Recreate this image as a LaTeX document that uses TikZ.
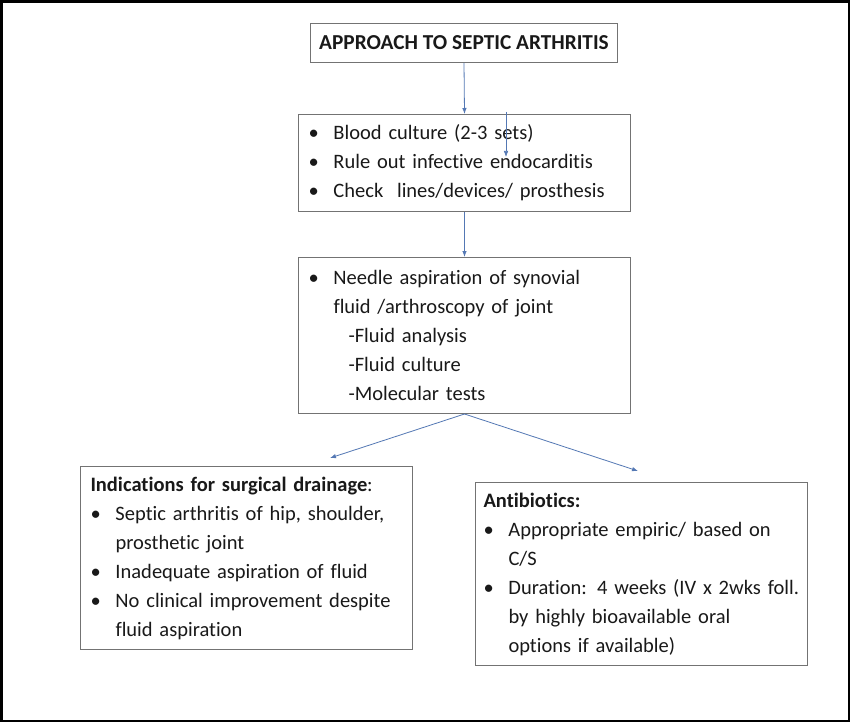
\documentclass[tikz,border=0pt]{standalone}
\usepackage{fontspec}
\setmainfont{Carlito}[Ligatures=NoCommon]
\usetikzlibrary{arrows.meta}
\definecolor{arrowblue}{RGB}{84,120,180}
\definecolor{boxgray}{RGB}{115,115,115}
\definecolor{txt}{RGB}{25,25,25}
\newcommand{\bitem}[1]{\hangindent=25pt\hangafter=1\noindent\makebox[25pt][l]{\textbullet}#1\par}
\newcommand{\subline}[1]{\noindent\hspace*{40pt}#1\par}
\newcommand{\headline}[1]{\noindent#1\par}
\tikzset{
  box/.style={draw=boxgray, line width=1pt, fill=white, text=txt, anchor=north west,
    align=left, inner ysep=4pt, font=\fontsize{20.5}{29}\selectfont},
  arr/.style={draw=arrowblue, line width=0.8pt, -{Latex[length=6pt,width=4.5pt]}}
}
\begin{document}
\begin{tikzpicture}[x=1pt,y=-1pt]
\useasboundingbox (0,0) rectangle (850,722);
\fill[black] (0,0) rectangle (850,722);
\fill[white] (3,3) rectangle (848,720);

\node[box, inner xsep=0pt, minimum width=307pt, minimum height=39pt, align=center,
  font=\fontsize{21.3}{25}\selectfont\bfseries] (title) at (310,23) {APPROACH TO SEPTIC ARTHRITIS};

\node[box, inner xsep=10pt, text width=312pt, minimum height=97pt] (b2) at (298,114) {%
\bitem{Blood culture (2-3 sets)}%
\bitem{Rule out infective endocarditis}%
\bitem{Check\ \ lines/devices/ prosthesis}};

\node[box, inner xsep=10pt, text width=312pt, minimum height=156pt] (b3) at (298,257) {%
\bitem{Needle aspiration of synovial\newline fluid /arthroscopy of joint}%
\subline{-Fluid analysis}%
\subline{-Fluid culture}%
\subline{-Molecular tests}};

\node[box, inner xsep=10pt, text width=312pt, minimum height=183pt] (b4) at (80,466) {%
\headline{\textbf{Indications for surgical drainage}:}%
\bitem{Septic arthritis of hip, shoulder,\newline prosthetic joint}%
\bitem{Inadequate aspiration of fluid}%
\bitem{No clinical improvement despite\newline fluid aspiration}};

\node[box, inner xsep=8pt, text width=316pt, minimum height=183pt] (b5) at (475,482) {%
\headline{\textbf{Antibiotics:}}%
\bitem{Appropriate empiric/ based on\newline C/S}%
\bitem{Duration: 4 weeks (IV x 2wks foll.\newline by highly bioavailable oral\newline options if available)}};

\coordinate (lt) at (330,458);
\coordinate (rt) at (638,471);
\coordinate (s1) at (506,112);
\coordinate (s2) at (506,157);

\draw[arr] (title.south) -- (b2.north);
\draw[arr] (b2.south) -- (b3.north);
\draw[arr] (b3.south) -- (lt);
\draw[arr] (b3.south) -- (rt);
\draw[arr, line width=0.6pt] (s1) -- (s2);
\end{tikzpicture}
\end{document}
